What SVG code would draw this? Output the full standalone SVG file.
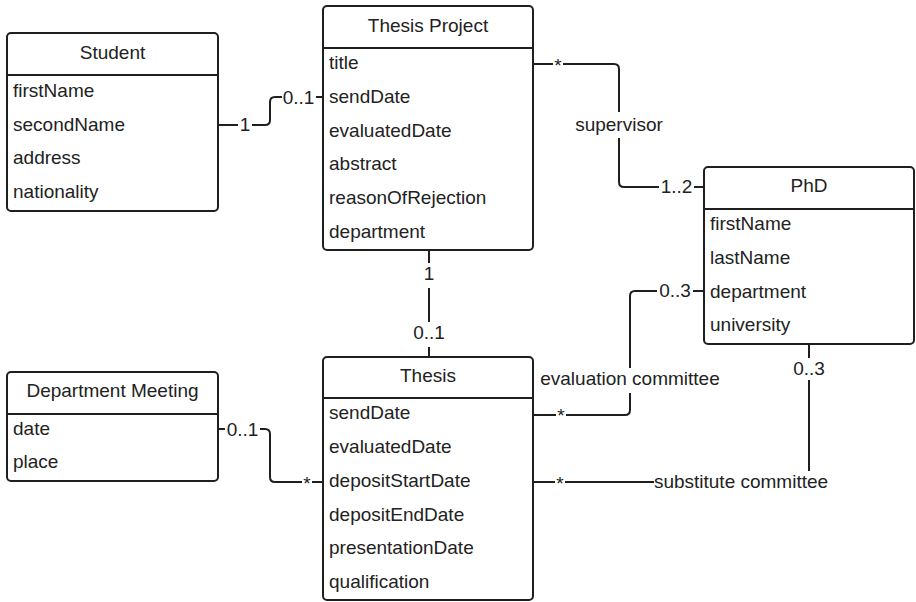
<svg xmlns="http://www.w3.org/2000/svg" width="916" height="602" viewBox="0 0 916 602">
  <style>
    .box { fill: #ffffff; stroke: #1f1f1f; stroke-width: 2; }
    .div { stroke: #1f1f1f; stroke-width: 2; }
    .t { font-family: "Liberation Sans", Arial, sans-serif; font-size: 19px; fill: #222222; }
    .h { text-anchor: middle; }
    .wire { fill: none; stroke: #1f1f1f; stroke-width: 2; stroke-linejoin: round; }
    .bg { fill: #ffffff; }
    .lbl { font-family: "Liberation Sans", Arial, sans-serif; font-size: 19px; fill: #222222; text-anchor: middle; }
  </style>

  <!-- connectors -->
  <g id="connectors">
    <!-- Student - Thesis Project -->
    <path class="wire" d="M218,125 H265 Q270,125 270,120 V102 Q270,97 275,97 H323"/>
    <rect class="bg" x="238" y="116" width="14" height="19"/>
    <text class="lbl" x="245" y="131">1</text>
    <rect class="bg" x="282" y="89" width="34" height="19"/>
    <text class="lbl" x="298.5" y="104">0..1</text>

    <!-- Thesis Project - PhD (supervisor) -->
    <path class="wire" d="M533,64 H614 Q619,64 619,69 V182 Q619,187 624,187 H704"/>
    <rect class="bg" x="553" y="56" width="10" height="12"/>
    <text class="lbl" x="558" y="72">*</text>
    <rect class="bg" x="574" y="112" width="90" height="26"/>
    <text class="lbl" x="619" y="131">supervisor</text>
    <rect class="bg" x="659" y="177" width="35" height="19"/>
    <text class="lbl" x="676.5" y="193">1..2</text>

    <!-- Thesis Project - Thesis -->
    <path class="wire" d="M429,250 V357"/>
    <rect class="bg" x="422" y="263" width="14" height="25"/>
    <text class="lbl" x="429" y="280">1</text>
    <rect class="bg" x="412" y="322" width="35" height="25"/>
    <text class="lbl" x="429" y="339">0..1</text>

    <!-- Thesis - PhD (evaluation committee) -->
    <path class="wire" d="M533,415 H625 Q630,415 630,410 V296 Q630,291 635,291 H704"/>
    <rect class="bg" x="556" y="406" width="10" height="12"/>
    <text class="lbl" x="561" y="422">*</text>
    <rect class="bg" x="539" y="368" width="182" height="25"/>
    <text class="lbl" x="630" y="385">evaluation committee</text>
    <rect class="bg" x="657" y="282" width="36" height="19"/>
    <text class="lbl" x="675" y="297">0..3</text>

    <!-- Thesis - PhD (substitute committee) -->
    <path class="wire" d="M533,482 H804 Q809,482 809,477 V344"/>
    <rect class="bg" x="555" y="474" width="10" height="12"/>
    <text class="lbl" x="560" y="490">*</text>
    <rect class="bg" x="654" y="471" width="175" height="23"/>
    <text class="lbl" x="741" y="488">substitute committee</text>
    <rect class="bg" x="791" y="358" width="36" height="22"/>
    <text class="lbl" x="809" y="375">0..3</text>

    <!-- Department Meeting - Thesis -->
    <path class="wire" d="M218,429 H265 Q270,429 270,434 V477 Q270,482 275,482 H323"/>
    <rect class="bg" x="225" y="420" width="35" height="19"/>
    <text class="lbl" x="242.5" y="436">0..1</text>
    <rect class="bg" x="302" y="474" width="10" height="12"/>
    <text class="lbl" x="307" y="490">*</text>
  </g>

  <!-- Student -->
  <g id="student">
    <rect class="box" x="7" y="33" width="211" height="178" rx="4"/>
    <line class="div" x1="7" y1="75" x2="218" y2="75"/>
    <text class="t h" x="112.5" y="59">Student</text>
    <text class="t" x="13" y="97">firstName</text>
    <text class="t" x="13" y="131">secondName</text>
    <text class="t" x="13" y="164">address</text>
    <text class="t" x="13" y="198">nationality</text>
  </g>

  <!-- Thesis Project -->
  <g id="thesis-project">
    <rect class="box" x="323" y="6" width="210" height="244" rx="4"/>
    <line class="div" x1="323" y1="48" x2="533" y2="48"/>
    <text class="t h" x="428" y="32">Thesis Project</text>
    <text class="t" x="329" y="69">title</text>
    <text class="t" x="329" y="103">sendDate</text>
    <text class="t" x="329" y="137">evaluatedDate</text>
    <text class="t" x="329" y="170">abstract</text>
    <text class="t" x="329" y="204">reasonOfRejection</text>
    <text class="t" x="329" y="238">department</text>
  </g>

  <!-- PhD -->
  <g id="phd">
    <rect class="box" x="704" y="167" width="210" height="177" rx="4"/>
    <line class="div" x1="704" y1="209" x2="914" y2="209"/>
    <text class="t h" x="809" y="192">PhD</text>
    <text class="t" x="710" y="230">firstName</text>
    <text class="t" x="710" y="264">lastName</text>
    <text class="t" x="710" y="298">department</text>
    <text class="t" x="710" y="331">university</text>
  </g>

  <!-- Department Meeting -->
  <g id="department-meeting">
    <rect class="box" x="7" y="372" width="211" height="109" rx="4"/>
    <line class="div" x1="7" y1="414" x2="218" y2="414"/>
    <text class="t h" x="112.5" y="397">Department Meeting</text>
    <text class="t" x="13" y="435">date</text>
    <text class="t" x="13" y="468">place</text>
  </g>

  <!-- Thesis -->
  <g id="thesis">
    <rect class="box" x="323" y="357" width="210" height="243" rx="4"/>
    <line class="div" x1="323" y1="398" x2="533" y2="398"/>
    <text class="t h" x="428" y="382">Thesis</text>
    <text class="t" x="329" y="419">sendDate</text>
    <text class="t" x="329" y="453">evaluatedDate</text>
    <text class="t" x="329" y="487">depositStartDate</text>
    <text class="t" x="329" y="521">depositEndDate</text>
    <text class="t" x="329" y="554">presentationDate</text>
    <text class="t" x="329" y="588">qualification</text>
  </g>
</svg>
